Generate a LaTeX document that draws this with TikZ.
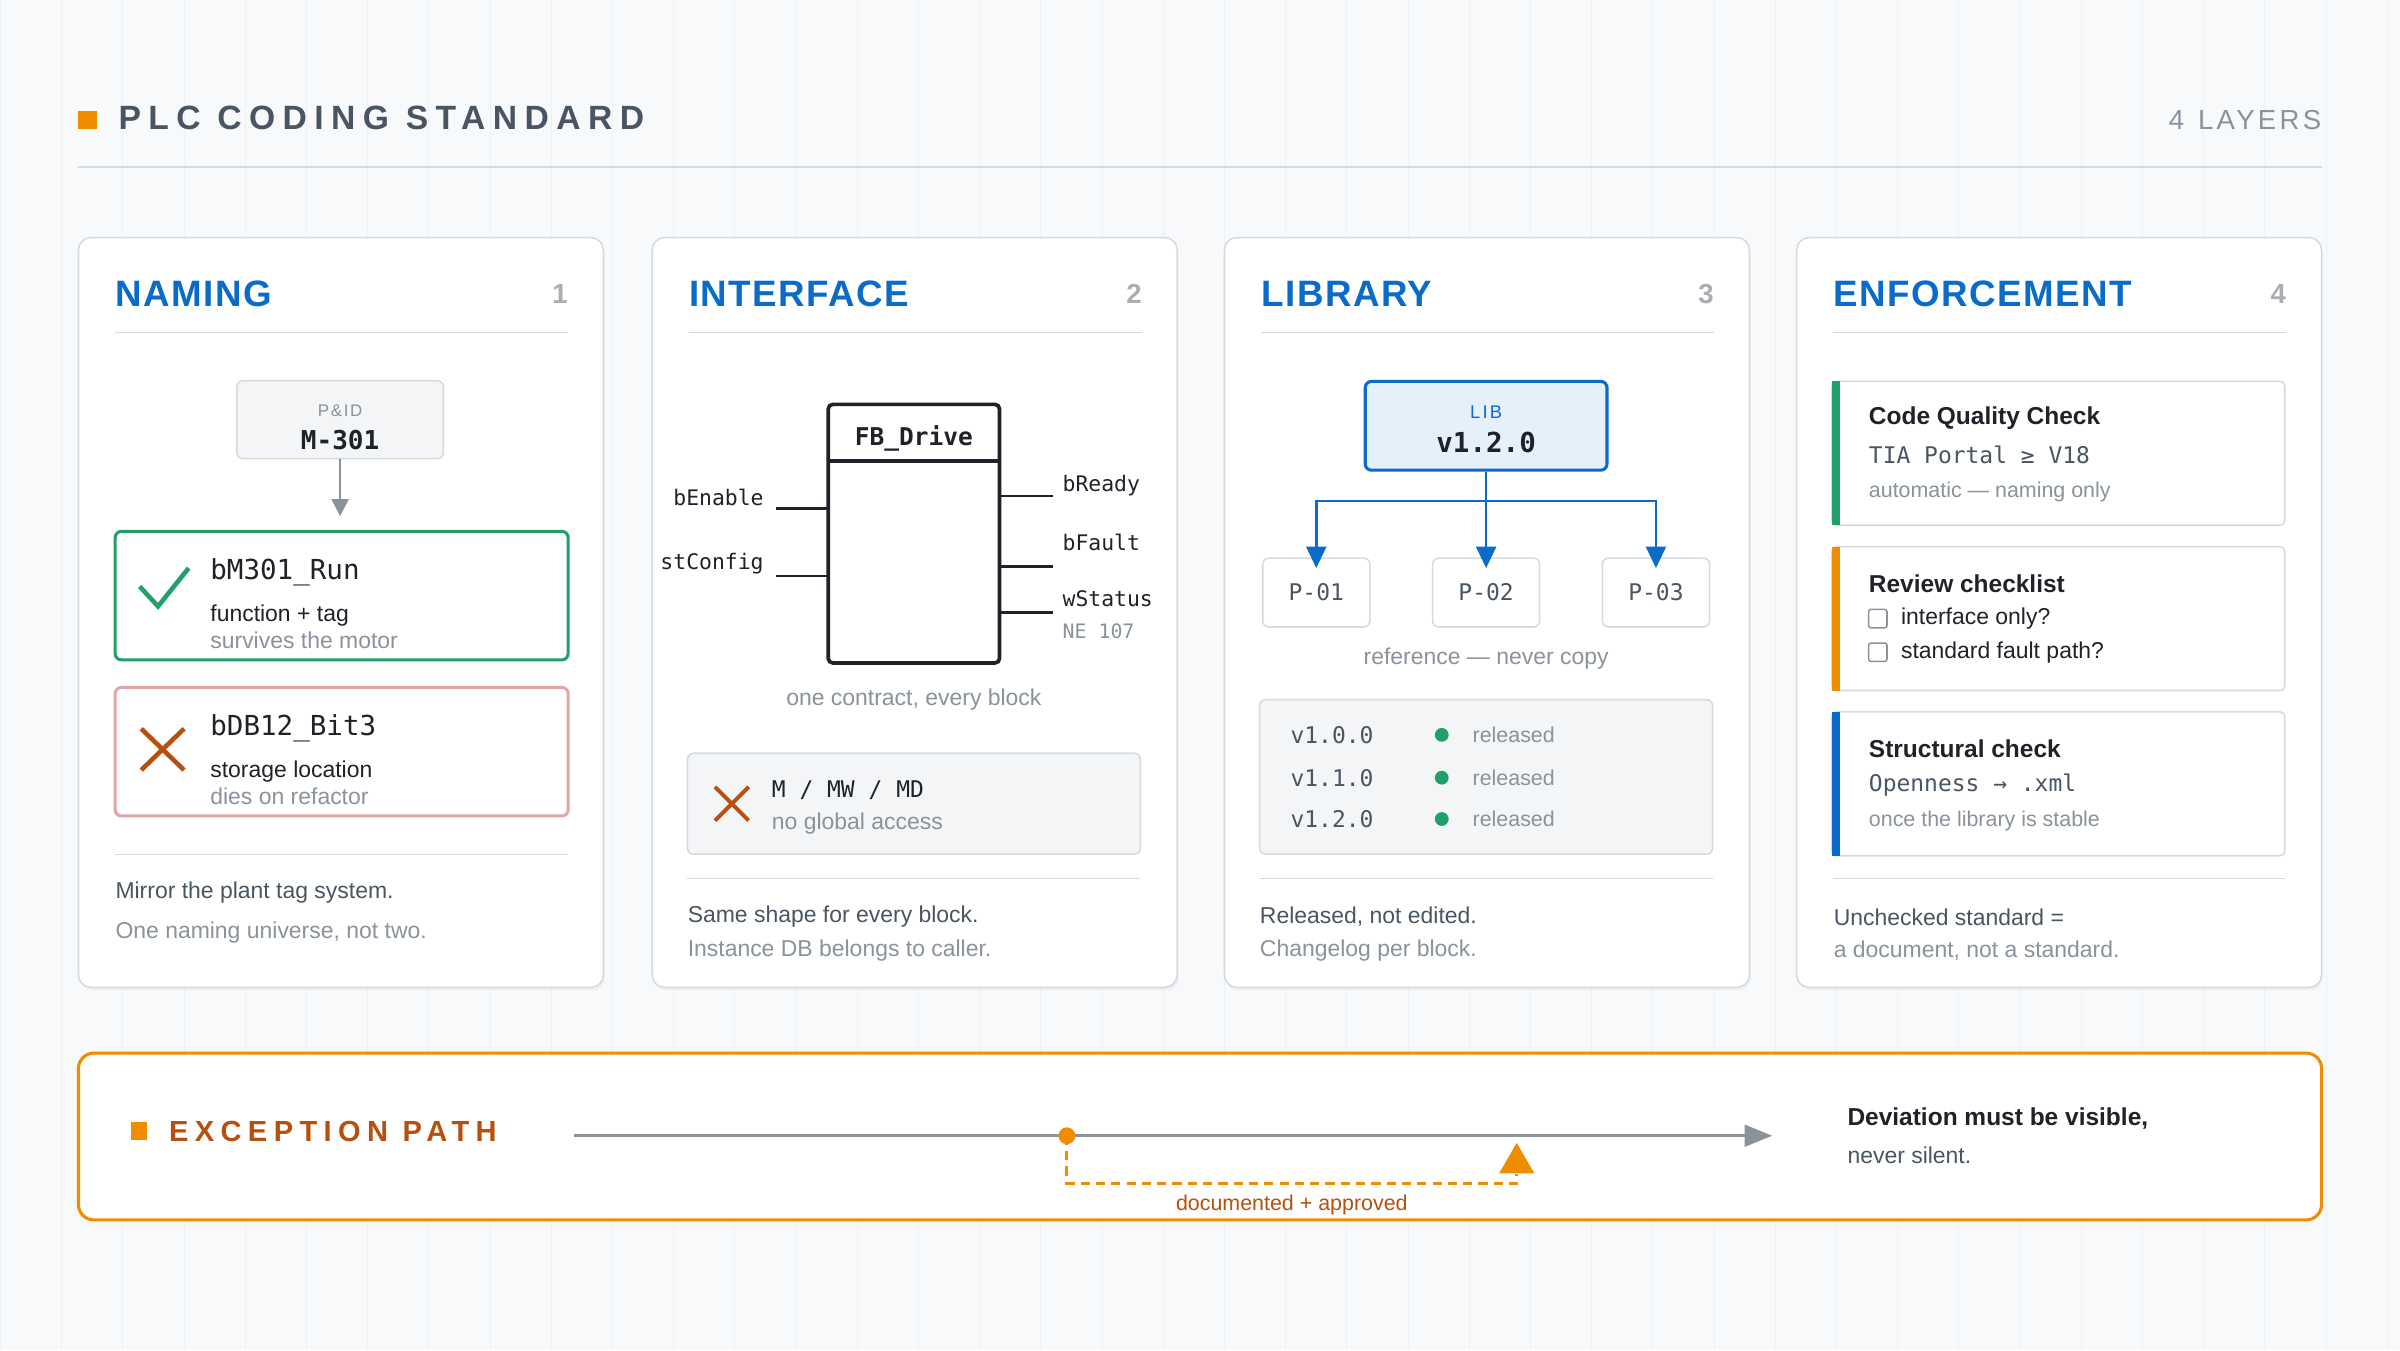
\documentclass[tikz,border=0pt]{standalone}
\usepackage{fontspec}
\setmainfont{Liberation Sans}
\newfontfamily\monof{DejaVu Sans Mono}
\usetikzlibrary{arrows.meta,positioning,shadows,shapes.geometric}
\definecolor{bgc}{HTML}{F7F9FB}
\definecolor{gridc}{HTML}{EDF0F4}
\definecolor{ink}{HTML}{1F2329}
\definecolor{slate}{HTML}{4A5563}
\definecolor{mute}{HTML}{8A929C}
\definecolor{rulec}{HTML}{D5DAE0}
\definecolor{blu}{HTML}{0B6BC8}
\definecolor{grn}{HTML}{22A06B}
\definecolor{org}{HTML}{F08C00}
\definecolor{brn}{HTML}{B5500F}
\definecolor{pinkc}{HTML}{E3A6A6}
\definecolor{panel}{HTML}{F3F5F7}
\definecolor{libc}{HTML}{E6F0FB}
\tikzset{
  card/.style={draw=rulec,fill=white,rounded corners=8pt,line width=1pt,drop shadow={opacity=0.08,shadow xshift=1pt,shadow yshift=-2pt}},
  ttl/.style={anchor=west,inner xsep=0,text=blu,font=\fontsize{24}{27}\selectfont\bfseries\addfontfeature{LetterSpace=4}},
  num/.style={anchor=east,inner xsep=0,text=rulec!80!black,font=\fontsize{18}{20}\selectfont\bfseries},
  body/.style={anchor=west,inner xsep=0,text=slate,font=\fontsize{15}{18}\selectfont},
  note/.style={anchor=west,inner xsep=0,text=mute,font=\fontsize{15}{18}\selectfont},
  mono/.style={anchor=west,inner xsep=0,text=ink,font=\monof\fontsize{15}{18}\selectfont},
  bold/.style={anchor=west,inner xsep=0,text=ink,font=\fontsize{16}{19}\selectfont\bfseries},
  sep/.style={draw=rulec,line width=0.8pt},
  pbox/.style={draw=rulec,fill=panel,rounded corners=4pt,line width=1pt},
  pin/.style={draw=ink,line width=1.6pt},
  tree/.style={draw=blu,line width=1.6pt},
}
\begin{document}
\begin{tikzpicture}[x=1pt,y=-1pt]
\fill[bgc] (0,0) rectangle (1568,882);
\draw[gridc,line width=0.6pt] (0,0) grid[step=40] (1568,882);
\useasboundingbox (0,0) rectangle (1568,882);
% header
\fill[org] (51,72) rectangle (63,84);
\node[anchor=west,inner xsep=0,text=slate,font=\fontsize{22}{25}\selectfont\bfseries\addfontfeature{LetterSpace=22}] (head) at (77,77) {PLC CODING STANDARD};
\node[anchor=east,inner xsep=0,text=mute,font=\fontsize{18}{20}\selectfont\addfontfeature{LetterSpace=12}] (layers) at (1517,78) {4\enspace LAYERS};
\draw[rulec,line width=1pt] (51,109) -- (1517,109);
% cards
\foreach \x/\t/\n in {51/NAMING/1,426/INTERFACE/2,800/LIBRARY/3,1174/ENFORCEMENT/4}{
  \path[card] (\x,155) rectangle ++(343,490);
  \node[ttl] at (\x+24,192) {\t};
  \node[num] at (\x+320,192) {\n};
  \draw[sep] (\x+24,217) -- (\x+320,217);
}
% naming
\node[pbox,minimum width=135,minimum height=51] (pid) at (222,274) {};
\node[text=mute,font=\fontsize{11}{12}\selectfont\addfontfeature{LetterSpace=10}] at (222,268) {P\&ID};
\node[text=ink,font=\monof\bfseries\fontsize{17}{20}\selectfont] at (222,287) {M-301};
\draw[-{Triangle[width=11pt,length=11pt]},mute,line width=1.5pt] (pid.south) -- ++(0,37) coordinate (run);
\draw[grn,line width=2pt,fill=white,rounded corners=4pt] (75,347) rectangle (371,431);
\draw[grn,line width=3pt] (91,383) -- (103,396) -- (123,371);
\node[mono,font=\monof\fontsize{18}{20}\selectfont] at (137,374) {bM301\_Run};
\node[body,text=ink] at (137,402) {function + tag};
\node[note] at (137,418) {survives the motor};
\draw[pinkc,line width=2pt,fill=white,rounded corners=4pt] (75,449) rectangle (371,533);
\draw[brn,line width=3pt] (92,476) -- (120,503) (92,503) -- (120,476);
\node[mono,font=\monof\fontsize{18}{20}\selectfont] at (137,476) {bDB12\_Bit3};
\node[body,text=ink] at (137,504) {storage location};
\node[note] at (137,520) {dies on refactor};
\draw[sep] (75,558) -- (371,558);
\node[body] at (75,583) {Mirror the plant tag system.};
\node[note] at (75,609) {One naming universe, not two.};
% interface
\draw[pin,line width=2.4pt,fill=white,rounded corners=3pt] (541,264) rectangle (653,433);
\draw[pin,line width=2pt] (541,301) -- (653,301);
\node[text=ink,font=\monof\bfseries\fontsize{16}{18}\selectfont] (fb) at (597,286) {FB\_Drive};
\node[mono,anchor=east,font=\monof\fontsize{14}{16}\selectfont] (en) at (499,325) {bEnable};
\node[mono,anchor=east,font=\monof\fontsize{14}{16}\selectfont] (cf) at (499,368) {stConfig};
\draw[pin] (507,332) -- (541,332) (507,376) -- (541,376);
\draw[pin] (653,324) -- (688,324) (653,370) -- (688,370) (653,400) -- (688,400);
\node[mono,font=\monof\fontsize{14}{16}\selectfont] (rd) at (694,317) {bReady};
\node[mono,font=\monof\fontsize{14}{16}\selectfont] (ft) at (694,354) {bFault};
\node[mono,font=\monof\fontsize{14}{16}\selectfont] (ws) at (694,391) {wStatus};
\node[mono,text=mute,font=\monof\fontsize{13}{16}\selectfont] at (694,412) {NE 107};
\node[text=mute,font=\fontsize{15}{18}\selectfont] at (597,457) {one contract, every block};
\path[pbox] (449,492) rectangle (745,558);
\draw[brn,line width=2.5pt] (467,514) -- (489,536) (467,536) -- (489,514);
\node[mono] at (504,516) {M / MW / MD};
\node[note] at (504,538) {no global access};
\draw[sep] (449,574) -- (745,574);
\node[body] at (449,599) {Same shape for every block.};
\node[note] at (449,621) {Instance DB belongs to caller.};
% library
\node[draw=blu,fill=libc,line width=2pt,rounded corners=4pt,minimum width=158,minimum height=58] (lib) at (971,278) {};
\node[text=blu,font=\fontsize{12}{14}\selectfont\addfontfeature{LetterSpace=12}] at (971,269) {LIB};
\node[text=ink,font=\monof\bfseries\fontsize{18}{20}\selectfont] at (971,289) {v1.2.0};
\foreach \px/\nm in {860/P-01,971/P-02,1082/P-03}{
  \node[draw=rulec,fill=white,line width=1pt,rounded corners=4pt,minimum width=70,minimum height=45,text=slate,font=\monof\fontsize{15}{18}\selectfont] (\nm) at (\px,387) {\nm};
}
\draw[tree] (lib.south) -- (971,327) coordinate (fork);
\foreach \nm in {P-01,P-02,P-03}
  \draw[tree,-{Triangle[width=13pt,length=14pt]}] (fork) -| ([yshift=-7]\nm.north);
\node[text=mute,font=\fontsize{15}{18}\selectfont] at (971,430) {reference — never copy};
\path[pbox] (823,457) rectangle (1119,558);
\foreach \v/\yy in {v1.0.0/480,v1.1.0/508,v1.2.0/535}{
  \node[mono,text=slate] at (843,\yy) {\v};
  \fill[grn] (942,\yy) circle (4.5);
  \node[note,font=\fontsize{14}{16}\selectfont] at (962,\yy) {released};
}
\draw[sep] (823,574) -- (1119,574);
\node[body] at (823,599) {Released, not edited.};
\node[note] at (823,621) {Changelog per block.};
% enforcement
\foreach \yy/\c in {249/grn,357/org,465/blu}{
  \draw[rulec,fill=white,line width=1pt,rounded corners=3pt] (1197,\yy) rectangle (1493,\yy+94);
  \fill[\c] (1197,\yy) rectangle (1202,\yy+94);
}
\node[bold] at (1221,273) {Code Quality Check};
\node[mono,text=slate] at (1221,297) {TIA Portal ≥ V18};
\node[note,font=\fontsize{14}{16}\selectfont] at (1221,321) {automatic — naming only};
\node[bold] at (1221,381) {Review checklist};
\draw[mute,line width=1pt,rounded corners=1.5pt] (1221,398) rectangle (1233,410) (1221,420) rectangle (1233,432);
\node[body,text=ink] at (1242,404) {interface only?};
\node[body,text=ink] at (1242,426) {standard fault path?};
\node[bold] at (1221,489) {Structural check};
\node[mono,text=slate] at (1221,513) {Openness → .xml};
\node[note,font=\fontsize{14}{16}\selectfont] at (1221,536) {once the library is stable};
\draw[sep] (1198,574) -- (1493,574);
\node[body] at (1198,599) {Unchecked standard =};
\node[note] at (1198,621) {a document, not a standard.};
% exception path
\draw[org,fill=white,line width=2pt,rounded corners=10pt] (51,688) rectangle (1517,797);
\fill[org] (85,733) rectangle (96,745);
\node[anchor=west,inner xsep=0,text=brn,font=\fontsize{19}{22}\selectfont\bfseries\addfontfeature{LetterSpace=22}] (exc) at (110,739) {EXCEPTION PATH};
\coordinate (start) at (375,742);
\coordinate (fork2) at (697,742);
\coordinate (finish) at (1158,742);
\draw[mute,line width=2.2pt,-{Triangle[width=14pt,length=18pt]}] (start) -- (finish);
\fill[org] (fork2) circle (5.5);
\node[fill=org,isosceles triangle,shape border rotate=90,isosceles triangle apex angle=60,inner sep=0,minimum height=20,minimum width=20] (gate) at (991,760) {};
\draw[org,line width=2pt,dash pattern=on 6pt off 4pt] (fork2) -- (697,773) -- (991,773) -- (gate.south);
\node[text=brn,font=\fontsize{14}{16}\selectfont] at (844,787) {documented + approved};
\node[bold,font=\fontsize{16}{19}\selectfont\bfseries] at (1207,731) {Deviation must be visible,};
\node[body] at (1207,755) {never silent.};
\end{tikzpicture}
\end{document}
